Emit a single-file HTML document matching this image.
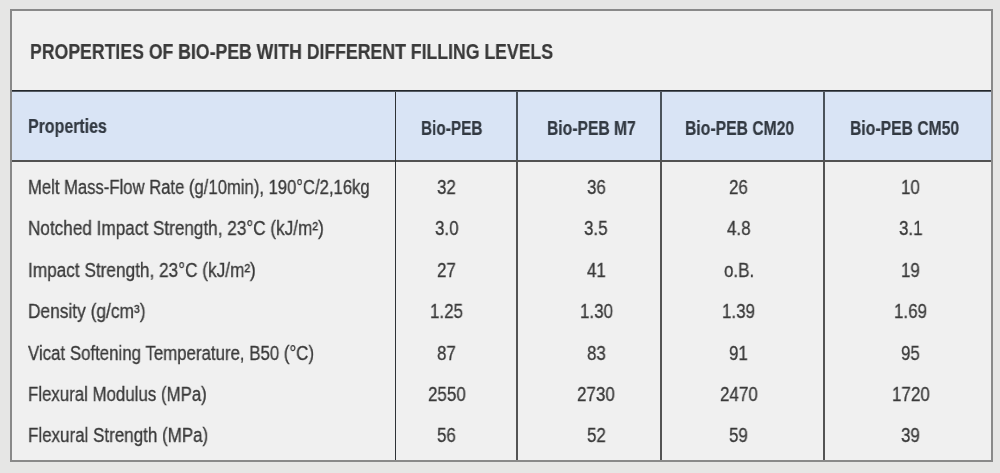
<!DOCTYPE html>
<html><head><meta charset="utf-8">
<style>
html,body{margin:0;padding:0;}
body{width:1000px;height:473px;background:#e6e6e5;position:relative;overflow:hidden;font-family:"Liberation Sans",sans-serif;}
.box{position:absolute;left:10px;top:9px;width:979px;height:449px;border:2px solid #898989;background:#f0f0f0;}
.r{position:absolute;}
.t{position:absolute;white-space:nowrap;line-height:1;color:#3a3a3a;transform-origin:0 0;will-change:transform;-webkit-text-stroke:0.3px #3a3a3a;}
.b{font-weight:bold;-webkit-text-stroke:0.2px #3a3a3a;}
.h{color:#333a43;-webkit-text-stroke:0.2px #333a43;}
</style></head><body>
<div id="all" style="position:absolute;left:0;top:0;width:1000px;height:473px;filter:blur(0.25px)">
<div class="box"></div>
<div class="r" style="left:12px;top:92px;width:979px;height:68px;background:#d9e4f5"></div>
<div class="r" style="left:12px;top:90px;width:979px;height:1px;background:#23272c"></div>
<div class="r" style="left:12px;top:91px;width:979px;height:1px;background:#555b63"></div>
<div class="r" style="left:12px;top:160px;width:979px;height:2px;background:#525252"></div>
<div class="r" style="left:395px;top:92px;width:1px;height:368px;background:#2e3236"></div>
<div class="r" style="left:516px;top:92px;width:2px;height:68px;background:#4b535b"></div>
<div class="r" style="left:516px;top:162px;width:2px;height:298px;background:#545454"></div>
<div class="r" style="left:660px;top:92px;width:2px;height:68px;background:#4b535b"></div>
<div class="r" style="left:660px;top:162px;width:2px;height:298px;background:#545454"></div>
<div class="r" style="left:823px;top:92px;width:2px;height:68px;background:#4b535b"></div>
<div class="r" style="left:823px;top:162px;width:2px;height:298px;background:#545454"></div>
<div class="t b" style="left:30.20px;top:40.80px;font-size:22px;transform:scaleX(0.8029)">PROPERTIES OF BIO-PEB WITH DIFFERENT FILLING LEVELS</div>
<div class="t b h" style="left:27.88px;top:117.20px;font-size:19.5px;transform:scaleX(0.8179)">Properties</div>
<div class="t b h" style="left:420.51px;top:118.75px;font-size:19.5px;transform:scaleX(0.7868)">Bio-PEB</div>
<div class="t b h" style="left:547.20px;top:118.75px;font-size:19.5px;transform:scaleX(0.8028)">Bio-PEB M7</div>
<div class="t b h" style="left:685.19px;top:118.75px;font-size:19.5px;transform:scaleX(0.8060)">Bio-PEB CM20</div>
<div class="t b h" style="left:849.59px;top:118.75px;font-size:19.5px;transform:scaleX(0.8060)">Bio-PEB CM50</div>
<div class="t" style="left:28.15px;top:177.70px;font-size:19.5px;transform:scaleX(0.8538)">Melt Mass-Flow Rate (g/10min), 190°C/2,16kg</div>
<div class="t" style="left:28.12px;top:219.20px;font-size:19.5px;transform:scaleX(0.8796)">Notched Impact Strength, 23°C (kJ/m²)</div>
<div class="t" style="left:28.04px;top:260.60px;font-size:19.5px;transform:scaleX(0.8824)">Impact Strength, 23°C (kJ/m²)</div>
<div class="t" style="left:28.11px;top:302.10px;font-size:19.5px;transform:scaleX(0.8885)">Density (g/cm³)</div>
<div class="t" style="left:28.20px;top:343.50px;font-size:19.5px;transform:scaleX(0.8636)">Vicat Softening Temperature, B50 (°C)</div>
<div class="t" style="left:28.14px;top:385.00px;font-size:19.5px;transform:scaleX(0.8634)">Flexural Modulus (MPa)</div>
<div class="t" style="left:28.13px;top:426.40px;font-size:19.5px;transform:scaleX(0.8702)">Flexural Strength (MPa)</div>
<div class="t" style="left:437.41px;top:177.70px;font-size:19.5px;transform:scaleX(0.8716)">32</div>
<div class="t" style="left:586.61px;top:177.70px;font-size:19.5px;transform:scaleX(0.8716)">36</div>
<div class="t" style="left:729.21px;top:177.70px;font-size:19.5px;transform:scaleX(0.8716)">26</div>
<div class="t" style="left:901.11px;top:177.70px;font-size:19.5px;transform:scaleX(0.8716)">10</div>
<div class="t" style="left:434.80px;top:219.20px;font-size:19.5px;transform:scaleX(0.8716)">3.0</div>
<div class="t" style="left:584.43px;top:219.20px;font-size:19.5px;transform:scaleX(0.8716)">3.5</div>
<div class="t" style="left:727.47px;top:219.20px;font-size:19.5px;transform:scaleX(0.8716)">4.8</div>
<div class="t" style="left:898.93px;top:219.20px;font-size:19.5px;transform:scaleX(0.8716)">3.1</div>
<div class="t" style="left:437.41px;top:260.60px;font-size:19.5px;transform:scaleX(0.8716)">27</div>
<div class="t" style="left:587.05px;top:260.60px;font-size:19.5px;transform:scaleX(0.8716)">41</div>
<div class="t" style="left:723.98px;top:260.60px;font-size:19.5px;transform:scaleX(0.8716)">o.B.</div>
<div class="t" style="left:901.11px;top:260.60px;font-size:19.5px;transform:scaleX(0.8716)">19</div>
<div class="t" style="left:430.44px;top:302.10px;font-size:19.5px;transform:scaleX(0.8716)">1.25</div>
<div class="t" style="left:579.64px;top:302.10px;font-size:19.5px;transform:scaleX(0.8716)">1.30</div>
<div class="t" style="left:722.24px;top:302.10px;font-size:19.5px;transform:scaleX(0.8716)">1.39</div>
<div class="t" style="left:894.14px;top:302.10px;font-size:19.5px;transform:scaleX(0.8716)">1.69</div>
<div class="t" style="left:437.41px;top:343.50px;font-size:19.5px;transform:scaleX(0.8716)">87</div>
<div class="t" style="left:586.61px;top:343.50px;font-size:19.5px;transform:scaleX(0.8716)">83</div>
<div class="t" style="left:729.21px;top:343.50px;font-size:19.5px;transform:scaleX(0.8716)">91</div>
<div class="t" style="left:901.11px;top:343.50px;font-size:19.5px;transform:scaleX(0.8716)">95</div>
<div class="t" style="left:427.82px;top:385.00px;font-size:19.5px;transform:scaleX(0.8716)">2550</div>
<div class="t" style="left:577.02px;top:385.00px;font-size:19.5px;transform:scaleX(0.8716)">2730</div>
<div class="t" style="left:719.62px;top:385.00px;font-size:19.5px;transform:scaleX(0.8716)">2470</div>
<div class="t" style="left:891.52px;top:385.00px;font-size:19.5px;transform:scaleX(0.8716)">1720</div>
<div class="t" style="left:437.41px;top:426.40px;font-size:19.5px;transform:scaleX(0.8716)">56</div>
<div class="t" style="left:586.61px;top:426.40px;font-size:19.5px;transform:scaleX(0.8716)">52</div>
<div class="t" style="left:729.21px;top:426.40px;font-size:19.5px;transform:scaleX(0.8716)">59</div>
<div class="t" style="left:901.11px;top:426.40px;font-size:19.5px;transform:scaleX(0.8716)">39</div>
</div>
</body></html>
